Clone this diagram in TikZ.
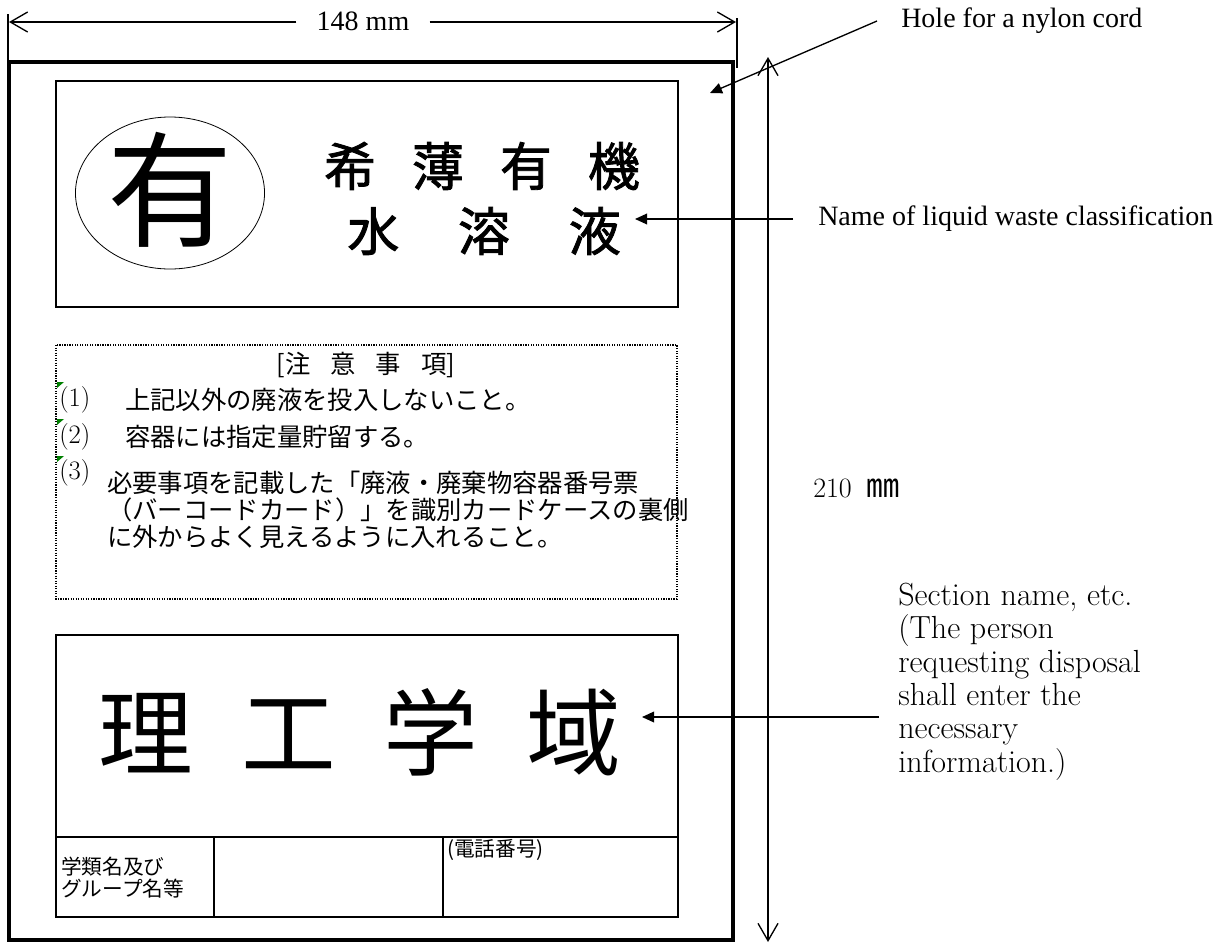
\documentclass[tikz,border=0pt]{standalone}
\usepackage{fontspec}
\newfontfamily\tms{Liberation Serif}
\newfontfamily\jp{Noto Sans CJK JP}
\newfontfamily\jpmed[FakeBold=1.6]{Noto Sans CJK JP}
\usetikzlibrary{arrows.meta}
\definecolor{markgreen}{RGB}{0,128,0}
\tikzset{
  frame/.style={draw, line width=2.6pt},
  panel/.style={draw, line width=1.5pt},
  dotbox/.style={draw, densely dotted, line width=0.9pt},
  barbhead/.style={line width=1pt, -{Straight Barb[length=13pt,width=15pt]}},
  dimline/.style={line width=1pt, {Straight Barb[length=13pt,width=15pt]}-{Straight Barb[length=13pt,width=15pt]}},
  leader/.style={line width=1pt, -{Triangle[length=9pt,width=8pt]}},
  enlbl/.style={font=\tms\fontsize{21}{25}\selectfont, inner sep=0pt},
  seclbl/.style={font=\fontsize{24}{25}\selectfont, inner sep=0pt, align=left},
  notetxt/.style={font=\jp\fontsize{19}{20}\selectfont, inner sep=0pt, anchor=west},
  numtxt/.style={font=\fontsize{20}{22}\selectfont, inner sep=0pt, anchor=west},
  smalljp/.style={font=\jp\fontsize{15.5}{16}\selectfont, inner sep=0pt, anchor=west},
  tracemark/.style={fill=markgreen, draw=none},
}
\begin{document}
\begin{tikzpicture}[x=0.75pt,y=-0.75pt]
\useasboundingbox (0,0) rectangle (1223,943);

% outer card
\draw[frame] (9,62) rectangle (733,940);

% top dimension 148 mm
\node[enlbl, inner xsep=15pt, inner ysep=0pt] (w148) at (363,21) {148 mm};
\coordinate (dimL) at (9,22);
\coordinate (dimR) at (736,22);
\draw[barbhead] (w148.west |- dimL) -- (dimL);
\draw[barbhead] (w148.east |- dimR) -- (dimR);
\coordinate (tickLa) at (8,14);
\coordinate (tickLb) at (8,62);
\coordinate (tickRa) at (737,18);
\coordinate (tickRb) at (737,68);
\draw[line width=1pt] (tickLa) -- (tickLb);
\draw[line width=1pt] (tickRa) -- (tickRb);

% vertical dimension 210 mm
\coordinate (vTop) at (768,57);
\coordinate (vBot) at (768,942);
\draw[dimline] (vTop) -- (vBot);
\node[font=\fontsize{21}{25}\selectfont, inner sep=0pt, anchor=west] (h210) at (813,488) {210\hspace{11pt}{\jp\fontsize{25}{25}\selectfont ㎜}};

% hole label
\node[enlbl, anchor=west] (hole) at (901,21) {Hole for a nylon cord};
\coordinate (holeS) at (877,21);
\coordinate (holeT) at (710,93);
\draw[leader] (holeS) -- (holeT);

% panel 1: classification
\draw[panel] (56,81) rectangle (678,307);
\draw[line width=0.6pt] (170,193) ellipse [x radius=70.9pt, y radius=57pt];
\node[font=\jp\fontsize{94}{94}\selectfont, inner sep=0pt] (ari) at (170,190) {有};
\node[font=\jpmed\fontsize{39}{40}\selectfont, inner sep=0pt] (cls1) at (482,166)
  {希\hspace{27pt}薄\hspace{27pt}有\hspace{27pt}機};
\node[font=\jpmed\fontsize{39}{40}\selectfont, inner sep=0pt] (cls2) at (484,231)
  {水\hspace{44pt}溶\hspace{44pt}液};
\node[enlbl, anchor=west] (namelbl) at (818,219) {Name of liquid waste classification};
\coordinate (nameS) at (793,219);
\coordinate (nameT) at (635,219);
\draw[leader] (nameS) -- (nameT);

% panel 2: notes
\draw[dotbox] (56,345) rectangle (677,599);
\node[font=\jp\fontsize{19}{20}\selectfont, inner sep=0pt] (ttl) at (366,365)
  {[注\hspace{15pt}意\hspace{15pt}事\hspace{15pt}項]};
\fill[tracemark] (57,382) -- (64,382) -- (57,388) -- cycle;
\fill[tracemark] (57,419) -- (64,419) -- (57,425) -- cycle;
\fill[tracemark] (57,456) -- (64,456) -- (57,462) -- cycle;
\node[numtxt] (p1) at (59,400) {(1)};
\node[notetxt] (n1) at (125,400) {上記以外の廃液を投入しないこと。};
\node[numtxt] (p2) at (59,437) {(2)};
\node[notetxt] (n2) at (125,437) {容器には指定量貯留する。};
\node[numtxt] (p3) at (59,473) {(3)};
\node[notetxt] (n3a) at (107,483) {必要事項を記載した「廃液・廃棄物容器番号票};
\node[notetxt] (n3b) at (107,510) {（バーコードカード）」を識別カードケースの裏側};
\node[notetxt] (n3c) at (107,537) {に外からよく見えるように入れること。};

% panel 3: section
\draw[panel] (56,635) rectangle (678,917);
\draw[panel] (56,837) -- (678,837);
\draw[panel] (214,837) -- (214,917);
\draw[panel] (443,837) -- (443,917);
\node[font=\jp\fontsize{71}{72}\selectfont, inner sep=0pt] (sect) at (360,732)
  {理\hspace{36pt}工\hspace{36pt}学\hspace{36pt}域};
\node[smalljp] (g1) at (61,867) {学類名及び};
\node[smalljp] (g2) at (61,889) {グループ名等};
\node[smalljp] (tel) at (447,850) {(電話番号)};
\node[seclbl, anchor=north west] (seclbl) at (898,583)
  {Section name, etc.\\(The person\\requesting disposal\\shall enter the\\necessary\\information.)};
\coordinate (secS) at (879,717);
\coordinate (secT) at (642,717);
\draw[leader] (secS) -- (secT);
\end{tikzpicture}
\end{document}
